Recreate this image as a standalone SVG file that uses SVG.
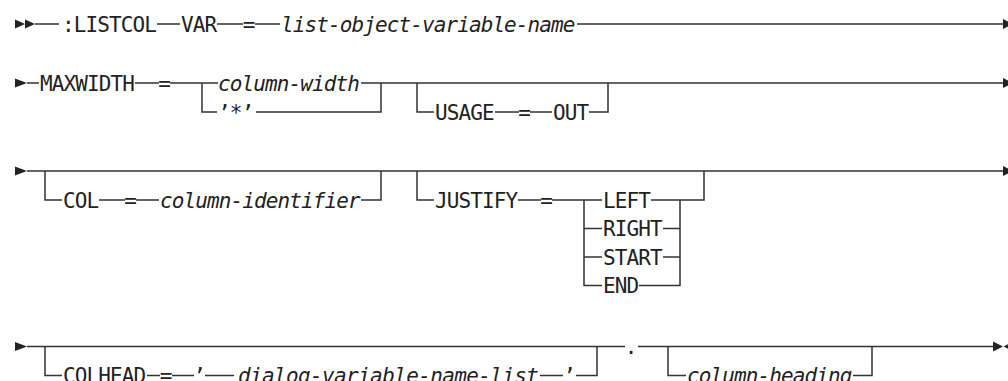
<svg xmlns="http://www.w3.org/2000/svg" width="1008" height="381" viewBox="0 0 1008 381">
<style>
.t{font-family:"DejaVu Sans Mono","Liberation Mono",monospace;font-size:21px;letter-spacing:-0.9px;fill:#222}
.i{font-style:italic}
.m{text-anchor:middle;letter-spacing:0}
.c path{stroke:#333;stroke-width:1.5;fill:none}
.c path.a{stroke:none;fill:#222}
</style>
<rect width="1008" height="381" fill="#fff"/>
<g id="connectors" class="c">
<path d="M35 24H59M157 24H180M217 24H243M255 24H280M577 24H1003"/>
<path d="M27 83H39M135 83H159M170 83H218M202 83V112H217M256 112H381V83M361 83H1003"/>
<path d="M417 83V112H434M495 112H519M530 112H552M589 112H608V83"/>
<path d="M27 171H1003M45 171V200H62M99 200H125M136 200H159M361 200H381V171"/>
<path d="M417 171V200H434M518 200H541M552 200H602M584 200V285.5H602M584 228.5H602M584 257H602M651 200H704V171M663 228.5H680M663 257H680M639 285.5H680V200"/>
<path d="M27 346.5H625M45 346.5V375.5H62M147 375.5H160M172 375.5H194M205 375.5H234M540 375.5H563M576 375.5H597V346.5M638 346.5H993M668 346.5V375.5H686M853 375.5H872V346.5"/>
<path class="a" d="M15 19.5L25 24L15 28.5ZM25 19.5L35 24L25 28.5ZM1003 19L1013 24L1003 29Z"/>
<path class="a" d="M15 78.5L27 83L15 87.5ZM1003 78L1013 83L1003 88Z"/>
<path class="a" d="M15 166.5L27 171L15 175.5ZM1003 166L1013 171L1003 176Z"/>
<path class="a" d="M15 342L27 346.5L15 351ZM993 341.5L1003 346.5L993 351.5ZM1003.5 346.5L1014 341.5L1014 351.5Z"/>
</g>
<g id="n-listcol"><text class="t" x="62" y="31.5">:LISTCOL</text></g>
<g id="n-var"><text class="t" x="181" y="31.5">VAR</text></g>
<g id="n-eq1"><text class="t m" x="249" y="31.5">=</text></g>
<g id="n-listobj"><text class="t i" x="281" y="31.5">list-object-variable-name</text></g>
<g id="n-maxwidth"><text class="t" x="40" y="90.5">MAXWIDTH</text></g>
<g id="n-eq2"><text class="t m" x="164.5" y="90.5">=</text></g>
<g id="n-colwidth"><text class="t i" x="218" y="90.5">column-width</text></g>
<g id="n-star"><text class="t" x="218" y="119.5">’*’</text></g>
<g id="n-usage"><text class="t" x="435" y="119.5">USAGE</text></g>
<g id="n-eq3"><text class="t m" x="524.5" y="119.5">=</text></g>
<g id="n-out"><text class="t" x="553" y="119.5">OUT</text></g>
<g id="n-col"><text class="t" x="63" y="207.5">COL</text></g>
<g id="n-eq4"><text class="t m" x="130.5" y="207.5">=</text></g>
<g id="n-colid"><text class="t i" x="160" y="207.5">column-identifier</text></g>
<g id="n-justify"><text class="t" x="435" y="207.5">JUSTIFY</text></g>
<g id="n-eq5"><text class="t m" x="546.5" y="207.5">=</text></g>
<g id="n-left"><text class="t" x="603" y="207.5">LEFT</text></g>
<g id="n-right"><text class="t" x="603" y="236">RIGHT</text></g>
<g id="n-start"><text class="t" x="603" y="264.5">START</text></g>
<g id="n-end"><text class="t" x="603" y="293">END</text></g>
<g id="n-colhead"><text class="t" x="63" y="383">COLHEAD</text></g>
<g id="n-eq6"><text class="t m" x="166" y="383">=</text></g>
<g id="n-q1"><text class="t m" x="199.5" y="383">’</text></g>
<g id="n-dialog"><text class="t i" x="238" y="383" textLength="300" lengthAdjust="spacing">dialog-variable-name-list</text></g>
<g id="n-q2"><text class="t m" x="569.5" y="383">’</text></g>
<g id="n-dot"><text class="t m" x="631" y="354">.</text></g>
<g id="n-colheading"><text class="t i" x="687" y="383">column-heading</text></g>
</svg>
